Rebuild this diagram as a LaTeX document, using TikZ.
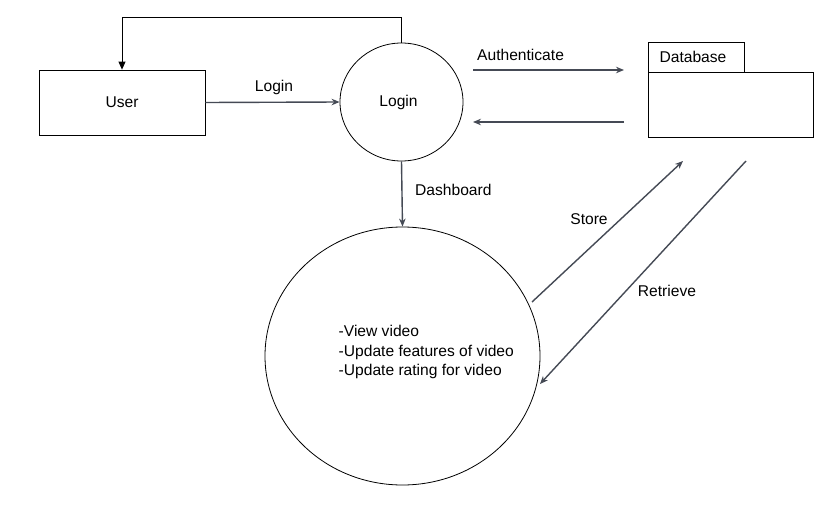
\documentclass[tikz,border=0pt]{standalone}
\usepackage{fontspec}
\setmainfont{Liberation Sans}
\usetikzlibrary{arrows.meta,shapes.geometric}
\definecolor{arr}{HTML}{454A55}
\begin{document}
\begin{tikzpicture}[x=1pt,y=-1pt,
  every node/.style={font=\fontsize{15.6}{19.5}\selectfont, inner sep=0pt},
  flow/.style={draw=arr, line width=1.4pt, -{Stealth[length=8pt,width=6.5pt]}},
  thin flow/.style={draw=black, line width=0.8pt, -{Triangle[length=8pt,width=7pt]}},
  shp/.style={draw=black, line width=0.8pt}]
\useasboundingbox (0,0) rectangle (836,522);
\fill[white] (0,0) rectangle (836,522);
% nodes
\node[shp, minimum width=166pt, minimum height=65pt] (user) at (122,102.5) {User};
\node[shp, ellipse, minimum width=123pt, minimum height=118pt] (login) at (401.5,102) {};
\node (logintxt) at (398.5,102) {Login};
\node[shp, ellipse, minimum width=275pt, minimum height=258pt] (dash) at (402.5,356) {};
\node[anchor=west, align=left] (tasks) at (338.5,352) {-View video\\-Update features of video\\-Update rating for video};
\node[shp, minimum width=96pt, minimum height=30pt] (dbtab) at (696,57) {};
\node (dbtxt) at (693,57) {Database};
\node[shp, minimum width=165pt, minimum height=65pt] (db) at (730.5,104.5) {};
% free ends
\coordinate (a1) at (473,70);
\coordinate (a2) at (624,70);
\coordinate (r1) at (624,122);
\coordinate (r2) at (473,122);
\coordinate (s1) at (532,302);
\coordinate (s2) at (683,161);
\coordinate (t1) at (746,161);
\coordinate (t2) at (540,384);
% connectors
\draw[thin flow] (login.north) -- (401.5,17) -| (user.north);
\draw[flow] (user.east) -- (login.west);
\node (lbl1) at (274,87) {Login};
\draw[flow] (login.south) -- (dash.north);
\node[anchor=west] (lbl2) at (415,190) {Dashboard};
\draw[flow] (a1) -- (a2);
\node[anchor=west] (lbl3) at (477,55) {Authenticate};
\draw[flow] (r1) -- (r2);
\draw[flow] (s1) -- (s2);
\node (lbl4) at (589,219) {Store};
\draw[flow] (t1) -- (t2);
\node (lbl5) at (667,291) {Retrieve};
\end{tikzpicture}
\end{document}
